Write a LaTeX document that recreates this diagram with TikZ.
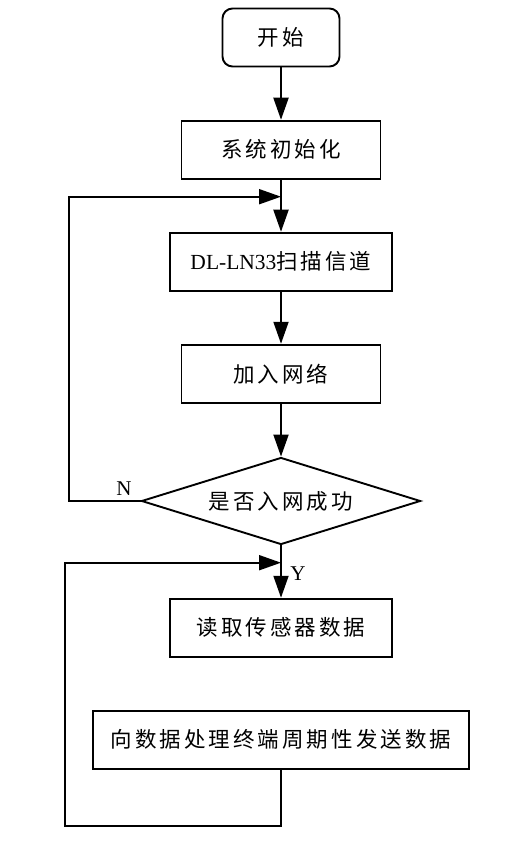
\documentclass[tikz,border=0pt]{standalone}
\usepackage{fontspec}
\newfontfamily\cjk[LetterSpace=14]{Noto Sans CJK SC}
\newfontfamily\latin{Liberation Serif}
\usetikzlibrary{shapes.geometric}
\usetikzlibrary{arrows.meta}

\begin{document}
\begin{tikzpicture}[x=1pt, y=-1pt, line width=1.9pt,
  box/.style={draw, rectangle, inner sep=0pt, minimum height=58pt, font=\fontsize{21.5}{25}\selectfont\cjk},
  flow/.style={-{Triangle[length=22pt,width=15pt]}},
  tag/.style={font=\fontsize{21}{25}\selectfont\latin}]
  \useasboundingbox (0,0) rectangle (527,842);

  \node[box, rounded corners=10pt, minimum width=117pt] (start) at (281,37.5) {开始};
  \node[box, minimum width=199pt] (init) at (281,149.7) {系统初始化};
  \node[box, minimum width=222pt] (scan) at (281,261.7) {\latin DL-LN33\cjk 扫描信道};
  \node[box, minimum width=199pt] (join) at (281,373.7) {加入网络};
  \node[box, diamond, aspect=3.2, minimum width=279pt, minimum height=87pt] (check) at (281,501) {是否入网成功};
  \node[box, minimum width=222pt] (read) at (281,627.7) {读取传感器数据};
  \node[box, minimum width=376pt] (send) at (281,739.7) {向数据处理终端周期性发送数据};

  \path[flow] (start) edge (init);
  \path[flow] (init) edge (scan);
  \path[flow] (scan) edge (join);
  \path[flow] (join) edge (check);
  \path[flow] (check) edge (read);

  % retry loop when joining fails
  \coordinate (leftA) at (69,196.7);
  \coordinate (mergeA) at (281,196.7);
  \draw[flow] (check.west) -| (leftA) -- (mergeA);
  \node[tag] (no) at (124,489) {N};

  % periodic send loop
  \coordinate (bottomB) at (281,825.7);
  \coordinate (leftB) at (65,562.7);
  \coordinate (mergeB) at (281,562.7);
  \draw[flow] (send.south) -- (bottomB) -| (leftB) -- (mergeB);
  \node[tag] (yes) at (298,574) {Y};
\end{tikzpicture}
\end{document}
